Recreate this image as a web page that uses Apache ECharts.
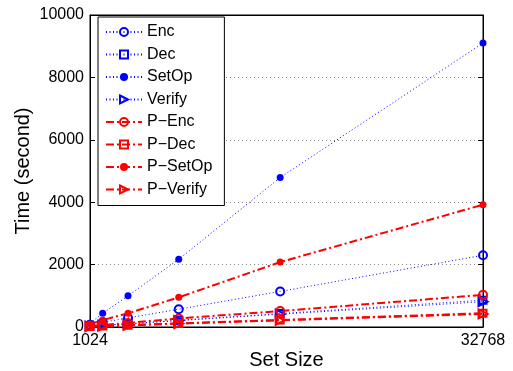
<!DOCTYPE html>
<html><head><meta charset="utf-8">
<script src="https://cdn.jsdelivr.net/npm/echarts@6/dist/echarts.min.js"></script>
<style>html,body{margin:0;padding:0;background:#fff}#c{width:513px;height:371px}</style>
</head><body><div id="c"></div>
<script>
const setSizes = [1024, 2048, 4096, 8192, 16384, 32768];
const xTicks = [1024, 32768];
const yTicks = [0, 2000, 4000, 6000, 8000, 10000];
const seriesNames = ['Enc', 'Dec', 'SetOp', 'Verify', 'P−Enc', 'P−Dec', 'P−SetOp', 'P−Verify'];
const enc = [75, 150, 290, 570, 1140, 2300];
const dec = [28, 55, 105, 215, 430, 860];
const setOp = [120, 440, 1000, 2170, 4790, 9100];
const verify = [25, 50, 100, 205, 410, 810];
const pEnc = [32, 65, 130, 275, 510, 1030];
const pDec = [15, 30, 60, 115, 225, 440];
const pSetOp = [100, 220, 440, 950, 2080, 3920];
const pVerify = [14, 28, 55, 110, 215, 420];
const values = [enc, dec, setOp, verify, pEnc, pDec, pSetOp, pVerify];

const BLUE = '#0000ff', RED = '#ff0000';
const TRI = 'path://M0,0L10,5L0,10Z';
const styles = [
  {c: BLUE, sym: 'circle', size: 8, hollow: true},
  {c: BLUE, sym: 'rect', size: 7, hollow: true},
  {c: BLUE, sym: 'circle', size: 7, hollow: false},
  {c: BLUE, sym: TRI, size: 9, hollow: true},
  {c: RED, sym: 'circle', size: 8, hollow: true},
  {c: RED, sym: 'rect', size: 7, hollow: true},
  {c: RED, sym: 'circle', size: 7, hollow: false},
  {c: RED, sym: TRI, size: 9, hollow: true}
];
const font = '"Liberation Sans", Arial, Helvetica, sans-serif';

const series = seriesNames.map((n, i) => {
  const s = styles[i];
  const isRed = s.c === RED;
  return {
    name: n, type: 'line',
    data: setSizes.map((x, k) => [x, values[i][k]]),
    symbol: s.sym, symbolSize: s.size, showAllSymbol: true,
    lineStyle: {color: s.c, width: isRed ? 2 : 1, type: isRed ? [8, 3, 2, 3] : [1, 2.5]},
    itemStyle: {color: s.hollow ? 'rgba(255,255,255,0)' : s.c, borderColor: s.c, borderWidth: s.hollow ? 2 : 0},
    emphasis: {disabled: true}, animation: false, z: 2
  };
});

const chart = echarts.init(document.getElementById('c'), null, {renderer: 'canvas'});
chart.setOption({
  animation: false,
  backgroundColor: '#fff',
  grid: {left: 90, right: 30, top: 15, bottom: 44, show: true, borderColor: '#000', borderWidth: 1,
         containLabel: false, outerBoundsMode: 'none'},
  legend: {
    orient: 'vertical', left: 98, top: 17,
    data: seriesNames,
    backgroundColor: '#fff', borderColor: '#000', borderWidth: 1,
    padding: [6, 12, 7, 7], itemGap: 4.5, itemWidth: 36, itemHeight: 10,
    textStyle: {fontFamily: font, fontSize: 16, color: '#000', lineHeight: 18},
    selectedMode: false
  },
  xAxis: [{
    type: 'value', min: 1024, max: 32768, position: 'bottom',
    name: 'Set Size', nameLocation: 'middle', nameGap: 23, nameMoveOverlap: false,
    nameTextStyle: {fontFamily: font, fontSize: 20, color: '#000', verticalAlign: 'top'},
    axisLine: {show: true, onZero: false, lineStyle: {color: '#000', width: 1}},
    axisTick: {show: true, inside: true, length: 5, customValues: xTicks, lineStyle: {color: '#000'}},
    axisLabel: {customValues: xTicks, fontFamily: font, fontSize: 16, color: '#000', margin: 6, formatter: v => String(v)},
    splitLine: {show: false}
  }, {
    type: 'value', min: 1024, max: 32768, position: 'top',
    axisLine: {show: true, onZero: false, lineStyle: {color: '#000'}},
    axisTick: {show: true, inside: true, length: 5, customValues: xTicks, lineStyle: {color: '#000'}},
    axisLabel: {show: false}, splitLine: {show: false}
  }],
  yAxis: [{
    type: 'value', min: 0, max: 10000, interval: 2000,
    name: 'Time (second)', nameLocation: 'middle', nameGap: 57, nameMoveOverlap: false,
    nameTextStyle: {fontFamily: font, fontSize: 20, color: '#000'},
    axisLine: {show: true, lineStyle: {color: '#000', width: 1}},
    axisTick: {show: true, inside: true, length: 5, lineStyle: {color: '#000'}},
    axisLabel: {fontFamily: font, fontSize: 16, color: '#000', margin: 6, formatter: v => String(v)},
    splitLine: {show: true, lineStyle: {color: '#888', width: 1, type: [1, 3]}}
  }, {
    type: 'value', min: 0, max: 10000, interval: 2000, position: 'right',
    axisLine: {show: true, lineStyle: {color: '#000'}},
    axisTick: {show: true, inside: true, length: 5, lineStyle: {color: '#000'}},
    axisLabel: {show: false}, splitLine: {show: false}
  }],
  series: series
});
</script>
</body></html>
